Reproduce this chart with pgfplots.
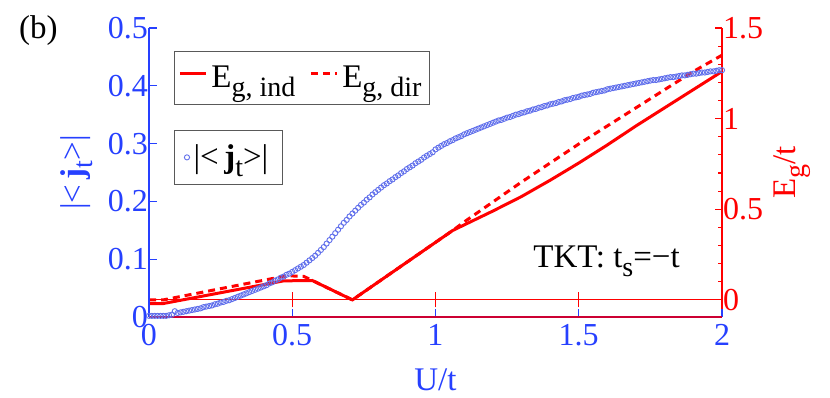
\documentclass[border=0pt]{standalone}
\usepackage{fontspec}
\setmainfont{Liberation Serif}
\newfontfamily\tnr{Liberation Serif}
\usepackage{pgfplots}
\pgfplotsset{compat=1.18}

\definecolor{jblue}{RGB}{38,64,255}
\definecolor{cblue}{RGB}{95,110,235}
\definecolor{gred}{RGB}{255,0,0}
\newcommand{\sub}[1]{\raisebox{-4.5pt}{\fontsize{14}{14}\selectfont #1}}
\newcommand{\bigfont}{\tnr\fontsize{16.5}{19}\selectfont}
\newcommand{\tickfont}{\tnr\fontsize{16}{18}\selectfont}

\pgfplotsset{
  common/.style={
    scale only axis, width=286.5pt, height=144.5pt,
    xmin=0, xmax=2,
    /pgf/number format/assume math mode=true,
  },
}

\begin{document}
\begin{tikzpicture}

% zero line of the gap axis
\begin{axis}[common, ymin=-0.0944, ymax=1.5,
  axis x line=middle, axis y line=none,
  xtick={0.5,1,1.5}, xticklabels={}, ytick=\empty,
  tick align=center, major tick length=7.5pt,
  axis line style={-}, x axis line style={gred, line width=0.6pt},
  xtick style={gred, line width=0.6pt}]
\end{axis}

% gaps, right axis
\begin{axis}[common, ymin=-0.0944, ymax=1.5,
  axis x line=none, axis y line=right,
  ytick={0,0.5,1,1.5}, minor y tick num=4,
  tick align=inside, major tick length=3.5pt, minor tick length=2pt,
  axis line style={-}, y axis line style={gred, line width=0.6pt},
  ytick style={gred, line width=0.6pt},
  yticklabel style={gred, font=\tickfont, xshift=-3pt},
  ylabel={E\sub{g}/t},
  ylabel style={gred, font=\bigfont, at={(axis description cs:1.122,0.5)}, anchor=center, rotate=0},
  legend columns=2,
  legend style={at={(axis description cs:0.0436,0.92)}, anchor=north west,
    draw=gray!70!black, fill=white, font=\bigfont,
    inner xsep=2pt, inner ysep=5pt,
    /tikz/every even column/.append style={column sep=5pt}},
  legend image code/.code={\draw[#1] (0pt,2pt) -- (13pt,2pt);},
  clip=false]

\addplot[gred, line width=1.5pt] coordinates {
  (0,-0.02) (0.05,-0.02) (0.47,0.105) (0.57,0.107) (0.71,0.0) (1.06,0.383)
  (1.2,0.49) (1.3,0.57) (1.4,0.66) (1.5,0.755) (1.6,0.855) (1.7,0.96)
  (1.8,1.06) (1.9,1.16) (2.0,1.26)
};
\addlegendentry{E\sub{g, ind}}

\addplot[gred, line width=1.5pt, dash pattern=on 3.5pt off 2.5pt] coordinates {
  (0,0.0) (0.05,0.0) (0.48,0.133) (0.54,0.13) (0.57,0.107) (0.71,0.0)
  (1.06,0.383) (1.1,0.43) (1.3,0.65) (1.5,0.86) (1.7,1.06) (1.9,1.26) (2.0,1.35)
};
\addlegendentry{E\sub{g, dir}}

\node[font=\bigfont, anchor=base] at (axis cs:1.597,0.178) {TKT: t\sub{s}=−t};
\end{axis}

% current, left axis
\begin{axis}[common, ymin=0, ymax=0.5,
  axis x line=bottom, axis y line=left,
  xtick={0,0.5,1,1.5,2}, ytick={0,0.1,0.2,0.3,0.4,0.5},
  tick align=inside, major tick length=4pt,
  axis line style={-},
  x axis line style={red!80!blue, line width=0.6pt},
  y axis line style={jblue, line width=0.6pt},
  xtick style={jblue, line width=0.6pt}, ytick style={jblue, line width=0.6pt},
  xticklabel style={jblue, font=\tickfont},
  yticklabel style={jblue, font=\tickfont, xshift=3pt},
  xlabel={U/t}, ylabel={|<\,\textbf{j}\sub{t}>|},
  xlabel style={jblue, font=\bigfont, at={(axis description cs:0.5,-0.218)}, anchor=center},
  ylabel style={jblue, font=\bigfont, at={(axis description cs:-0.127,0.5)}, anchor=center, rotate=0},
  legend style={at={(axis description cs:0.0436,0.647)}, anchor=north west,
    draw=gray!70!black, fill=white, font=\bigfont,
    inner xsep=5pt, inner ysep=5pt},
  clip=false]

\addplot[only marks, mark=o, mark size=1.3pt, cblue, line width=0.45pt] coordinates {
(0.00,.002)(0.01,.002)(0.02,.002)(0.03,.002)(0.04,.002)(0.05,.002)(0.06,.002)
(0.07,.003)(0.08,.004)(0.09,.010)(0.10,.007)(0.11,.008)(0.12,.009)(0.13,.010)
(0.14,.011)(0.15,.012)(0.16,.013)(0.17,.014)(0.18,.015)(0.19,.017)(0.20,.018)
(0.21,.019)(0.22,.020)(0.23,.022)(0.24,.023)(0.25,.025)(0.26,.026)(0.27,.028)
(0.28,.029)(0.29,.031)(0.30,.033)(0.31,.035)(0.32,.037)(0.33,.039)(0.34,.041)
(0.35,.043)(0.36,.045)(0.37,.047)(0.38,.049)(0.39,.051)(0.40,.053)(0.41,.055)
(0.42,.058)(0.43,.060)(0.44,.063)(0.45,.065)(0.46,.068)(0.47,.070)(0.48,.073)
(0.49,.075)(0.50,.078)(0.51,.081)(0.52,.084)(0.53,.087)(0.54,.090)(0.55,.094)
(0.56,.098)(0.57,.102)(0.58,.106)(0.59,.111)(0.60,.116)(0.61,.121)(0.62,.127)
(0.63,.133)(0.64,.139)(0.65,.145)(0.66,.151)(0.67,.157)(0.68,.163)(0.69,.168)
(0.70,.174)(0.71,.179)(0.72,.184)(0.73,.189)(0.74,.194)(0.75,.198)(0.76,.203)
(0.77,.207)(0.78,.212)(0.79,.216)(0.80,.220)(0.81,.224)(0.82,.228)(0.83,.231)
(0.84,.235)(0.85,.238)(0.86,.242)(0.87,.245)(0.88,.249)(0.89,.252)(0.90,.256)
(0.91,.259)(0.92,.262)(0.93,.266)(0.94,.269)(0.95,.272)(0.96,.276)(0.97,.279)
(0.98,.282)(0.99,.285)(1.00,.290)(1.01,.293)(1.02,.296)(1.03,.299)(1.04,.301)
(1.05,.304)(1.06,.306)(1.07,.309)(1.08,.311)(1.09,.313)(1.10,.316)(1.11,.318)
(1.12,.320)(1.13,.322)(1.14,.324)(1.15,.326)(1.16,.328)(1.17,.330)(1.18,.332)
(1.19,.334)(1.20,.336)(1.21,.338)(1.22,.340)(1.23,.341)(1.24,.343)(1.25,.345)
(1.26,.346)(1.27,.348)(1.28,.350)(1.29,.351)(1.30,.353)(1.31,.354)(1.32,.356)
(1.33,.357)(1.34,.359)(1.35,.360)(1.36,.362)(1.37,.363)(1.38,.365)(1.39,.366)
(1.40,.368)(1.41,.369)(1.42,.370)(1.43,.372)(1.44,.373)(1.45,.375)(1.46,.376)
(1.47,.377)(1.48,.379)(1.49,.380)(1.50,.381)(1.51,.383)(1.52,.384)(1.53,.385)
(1.54,.386)(1.55,.388)(1.56,.389)(1.57,.390)(1.58,.391)(1.59,.392)(1.60,.394)
(1.61,.395)(1.62,.396)(1.63,.397)(1.64,.398)(1.65,.399)(1.66,.400)(1.67,.401)
(1.68,.402)(1.69,.403)(1.70,.404)(1.71,.405)(1.72,.406)(1.73,.407)(1.74,.408)
(1.75,.409)(1.76,.410)(1.77,.410)(1.78,.411)(1.79,.412)(1.80,.413)(1.81,.414)
(1.82,.415)(1.83,.415)(1.84,.416)(1.85,.417)(1.86,.418)(1.87,.418)(1.88,.419)
(1.89,.420)(1.90,.421)(1.91,.421)(1.92,.422)(1.93,.423)(1.94,.423)(1.95,.424)
(1.96,.425)(1.97,.425)(1.98,.426)(1.99,.427)(2.00,.427)
};
\addlegendentry{|<\,\textbf{j}\sub{t}>|}

\node[font=\bigfont, anchor=base west] at (axis description cs:-0.239,0.965) {(b)};
\end{axis}

\pgfresetboundingbox
\useasboundingbox (-74.5pt,-40pt) rectangle (340.5pt,158.5pt);
\end{tikzpicture}
\end{document}
